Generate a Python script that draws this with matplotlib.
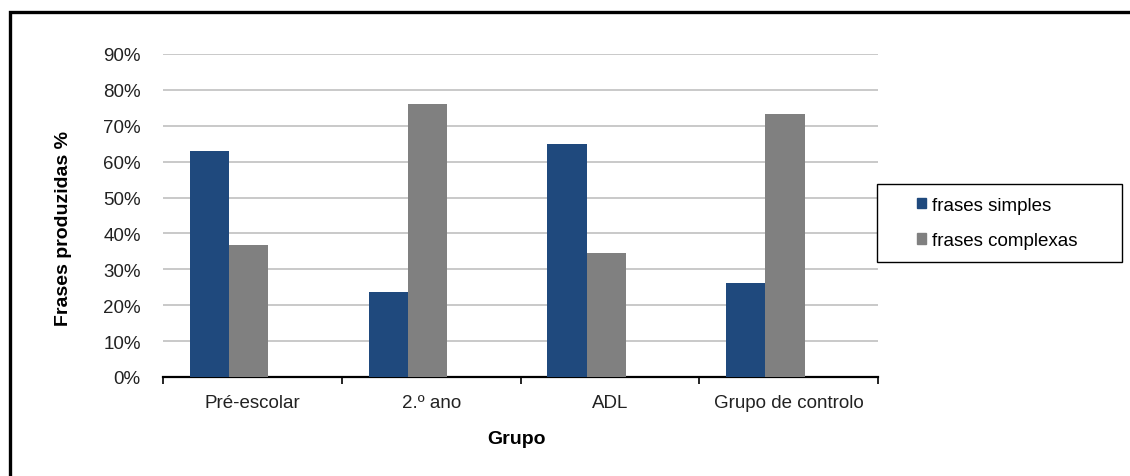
import matplotlib
matplotlib.use("Agg")
import matplotlib.pyplot as plt
from matplotlib.patches import Rectangle, Patch
import numpy as np

plt.rcParams['font.family'] = ['Liberation Sans', 'DejaVu Sans']

grupos = ["Pré-escolar", "2.º ano", "ADL", "Grupo de controlo"]
frases_simples = [63, 23.6, 65, 26.2]
frases_complexas = [36.8, 76.2, 34.5, 73.2]
series_names = ["frases simples", "frases complexas"]
COLORS = ["#1f497d", "#808080"]

W, H = 1130, 477
fig = plt.figure(figsize=(W / 100, H / 100), dpi=100)

# plot area in pixel terms
left, right, top, bottom = 163, 878, 55, 378
ax = fig.add_axes([left / W, 1 - bottom / H, (right - left) / W, (bottom - top) / H])

x = np.arange(len(grupos))
bw = 0.22
ax.bar(x - 0.24, frases_simples, width=bw, color=COLORS[0], zorder=3)
ax.bar(x - 0.24 + bw, frases_complexas, width=bw, color=COLORS[1], zorder=3)

ax.set_xlim(-0.5, len(grupos) - 0.5)
ax.set_ylim(0, 90)
ax.set_yticks(np.arange(0, 91, 10))
ax.set_yticklabels([f"{v}%" for v in range(0, 91, 10)])
ax.yaxis.grid(True, color="#c0c0c0", linewidth=1.2, zorder=0)
ax.tick_params(axis="y", length=0, pad=16, labelsize=13.5, labelcolor="#222222")

# category boundaries carry the tick marks, names sit between them
ax.set_xticks(np.arange(-0.5, len(grupos)), minor=False)
ax.set_xticklabels([""] * (len(grupos) + 1))
ax.set_xticks(x, minor=True)
ax.set_xticklabels(grupos, minor=True)
ax.tick_params(axis="x", which="major", length=5, width=1.2, direction="out", color="black")
ax.tick_params(axis="x", which="minor", length=0, pad=12, labelsize=13.5, labelcolor="#222222")

for s in ["left", "right", "top"]:
    ax.spines[s].set_visible(False)
ax.spines["bottom"].set_linewidth(1.6)

fig.text(63 / W, 1 - 228 / H, "Frases produzidas %", rotation=90, fontsize=14,
         fontweight="bold", ha="center", va="center")
fig.text(517 / W, 1 - 440 / H, "Grupo", fontsize=14, fontweight="bold",
         ha="center", va="center")

# legend box
fig.patches.append(Rectangle((877 / W, 1 - 263 / H), 245 / W, 78 / H,
                             transform=fig.transFigure, fill=False,
                             edgecolor="black", linewidth=1.0))
handles = [Patch(color=c, label=n) for c, n in zip(COLORS, series_names)]
fig.legend(handles=handles, loc="center left", bbox_to_anchor=(917 / W, 1 - 224 / H),
           frameon=False, fontsize=13.5, handlelength=0.5, handleheight=0.5,
           handletextpad=0.3, labelspacing=1.0, borderpad=0, borderaxespad=0)

# outer chart border
fig.patches.append(Rectangle((10 / W, -0.05), 1.1, 1 - 13 / H + 0.05,
                             transform=fig.transFigure, fill=False,
                             edgecolor="black", linewidth=2.4))

fig.savefig("out.png", dpi=100)
